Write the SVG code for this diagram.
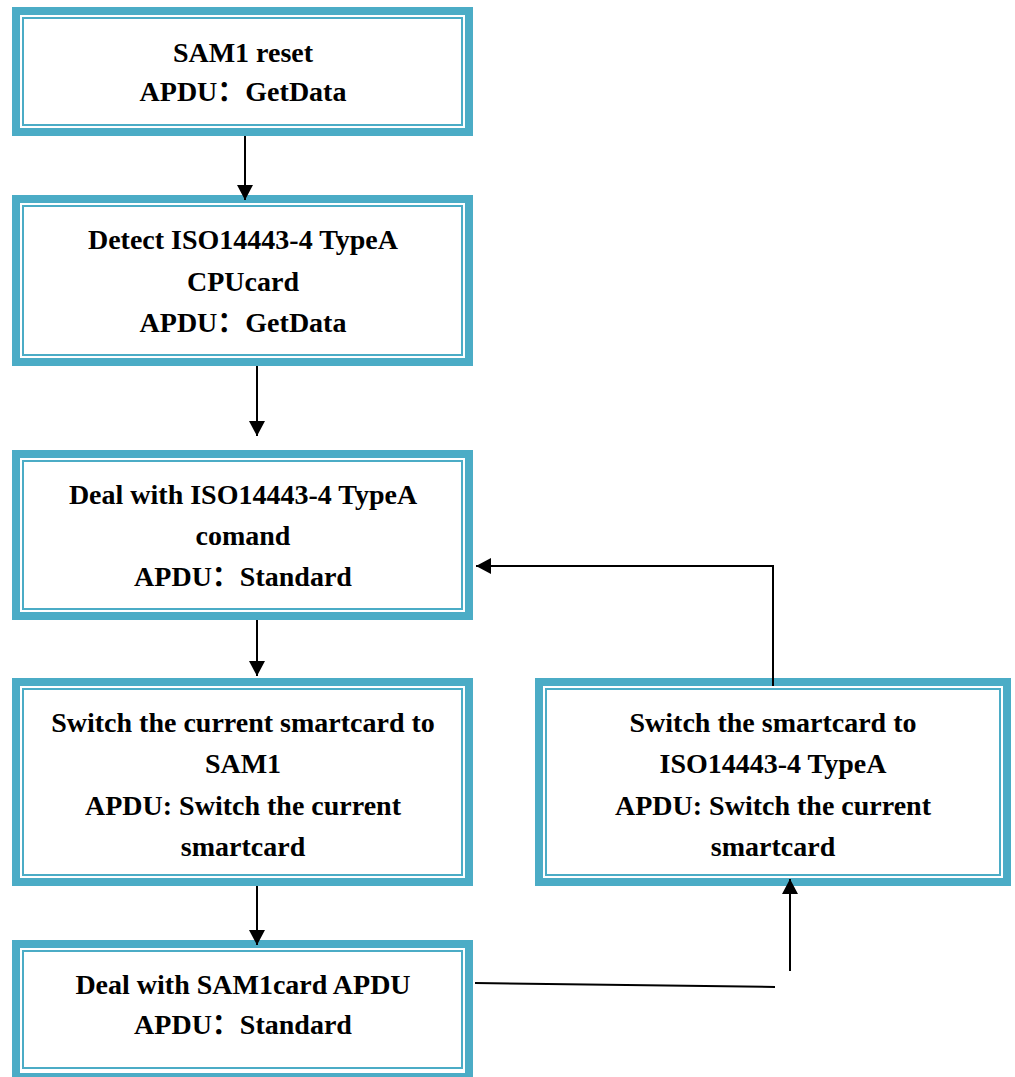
<svg xmlns="http://www.w3.org/2000/svg" width="1015" height="1077" viewBox="0 0 1015 1077">
  <style>
    .frame { fill: #4BACC6; }
    .inner { fill: #FFFFFF; }
    .rule { fill: none; stroke: #4BACC6; stroke-width: 2; }
    .label { font-family: "Liberation Serif", "Times New Roman", "Noto Sans CJK SC", serif; font-weight: bold; font-size: 28px; fill: #000000; text-anchor: middle; }
    .wire { fill: none; stroke: #000000; stroke-width: 2; }
  </style>
  <defs>
    <marker id="head" markerUnits="userSpaceOnUse" markerWidth="16" markerHeight="16" viewBox="0 0 16 16" refX="15" refY="8" orient="auto">
      <path d="M0,0 L15,8 L0,16 Z" fill="#000000"/>
    </marker>
  </defs>

  <rect width="1015" height="1077" fill="#FFFFFF"/>

  <!-- process boxes: thick teal frame, white gap, thin teal rule -->
  <g id="node-sam1-reset">
    <rect class="frame" x="12" y="7" width="461" height="129"/>
    <rect class="inner" x="20" y="15" width="445" height="113"/>
    <rect class="rule" x="23" y="18" width="439" height="107"/>
    <text class="label" x="243" y="62">SAM1 reset</text>
    <text class="label" x="243" y="101">APDU：GetData</text>
  </g>

  <g id="node-detect-typea">
    <rect class="frame" x="12" y="195" width="461" height="171"/>
    <rect class="inner" x="20" y="203" width="445" height="155"/>
    <rect class="rule" x="23" y="206" width="439" height="149"/>
    <text class="label" x="243" y="249">Detect ISO14443-4 TypeA</text>
    <text class="label" x="243" y="291">CPUcard</text>
    <text class="label" x="243" y="332">APDU：GetData</text>
  </g>

  <g id="node-deal-typea">
    <rect class="frame" x="12" y="450" width="461" height="170"/>
    <rect class="inner" x="20" y="458" width="445" height="154"/>
    <rect class="rule" x="23" y="461" width="439" height="148"/>
    <text class="label" x="243" y="504">Deal with ISO14443-4 TypeA</text>
    <text class="label" x="243" y="545">comand</text>
    <text class="label" x="243" y="586">APDU：Standard</text>
  </g>

  <g id="node-switch-to-sam1">
    <rect class="frame" x="12" y="678" width="461" height="208"/>
    <rect class="inner" x="20" y="686" width="445" height="192"/>
    <rect class="rule" x="23" y="689" width="439" height="186"/>
    <text class="label" x="243" y="732">Switch the current smartcard to</text>
    <text class="label" x="243" y="773">SAM1</text>
    <text class="label" x="243" y="815">APDU: Switch the current</text>
    <text class="label" x="243" y="856">smartcard</text>
  </g>

  <!-- last box runs past the bottom edge of the page -->
  <g id="node-deal-sam1">
    <rect class="frame" x="12" y="940" width="461" height="141"/>
    <rect class="inner" x="20" y="948" width="445" height="125"/>
    <rect class="rule" x="23" y="951" width="439" height="117"/>
    <text class="label" x="243" y="994">Deal with SAM1card APDU</text>
    <text class="label" x="243" y="1034">APDU：Standard</text>
  </g>

  <g id="node-switch-to-typea">
    <rect class="frame" x="535" y="678" width="476" height="208"/>
    <rect class="inner" x="543" y="686" width="460" height="192"/>
    <rect class="rule" x="546" y="689" width="454" height="186"/>
    <text class="label" x="773" y="732">Switch the smartcard to</text>
    <text class="label" x="773" y="773">ISO14443-4 TypeA</text>
    <text class="label" x="773" y="815">APDU: Switch the current</text>
    <text class="label" x="773" y="856">smartcard</text>
  </g>

  <!-- connectors -->
  <g id="connectors">
    <line class="wire" x1="245" y1="136" x2="245" y2="200" marker-end="url(#head)"/>
    <line class="wire" x1="257" y1="366" x2="257" y2="436" marker-end="url(#head)"/>
    <line class="wire" x1="257" y1="620" x2="257" y2="676" marker-end="url(#head)"/>
    <line class="wire" x1="257" y1="886" x2="257" y2="945" marker-end="url(#head)"/>
    <polyline class="wire" points="773,686 773,566 476,566" marker-end="url(#head)"/>
    <line class="wire" x1="475" y1="983" x2="775" y2="987"/>
    <line class="wire" x1="790" y1="971" x2="790" y2="879" marker-end="url(#head)"/>
  </g>
</svg>
